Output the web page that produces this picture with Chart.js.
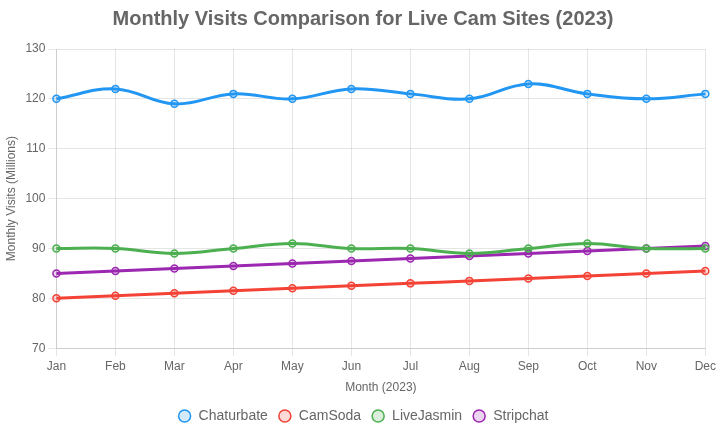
<!DOCTYPE html>
<html>
<head>
<meta charset="utf-8">
<script src="https://cdn.jsdelivr.net/npm/chart.js@4"></script>
<style>
html,body{margin:0;padding:0;background:#fff;}
#wrap{width:719px;height:433px;}
</style>
</head>
<body>
<div id="wrap"><canvas id="c"></canvas></div>
<script>
const months = ["Jan","Feb","Mar","Apr","May","Jun","Jul","Aug","Sep","Oct","Nov","Dec"];
const chaturbate = [120,122,119,121,120,122,121,120,123,121,120,121];
const camsoda = [80,80.5,81,81.5,82,82.5,83,83.5,84,84.5,85,85.5];
const livejasmin = [90,90,89,90,91,90,90,89,90,91,90,90];
const stripchat = [85,85.5,86,86.5,87,87.5,88,88.5,89,89.5,90,90.5];

function ds(label, data, color, bg){
  return {label, data, borderColor: color, backgroundColor: bg, borderWidth: 3, tension: 0.4,
    pointRadius: 3.5, pointBorderWidth: 1.5, pointBackgroundColor: bg, pointBorderColor: color, fill: false};
}
Chart.defaults.font.family = "'Liberation Sans', Arial, Helvetica, sans-serif";
new Chart(document.getElementById('c'), {
  type: 'line',
  data: {
    labels: months,
    datasets: [
      ds('Chaturbate', chaturbate, '#2196F3', 'rgba(33,150,243,0.2)'),
      ds('CamSoda', camsoda, '#F44336', 'rgba(244,67,54,0.2)'),
      ds('LiveJasmin', livejasmin, '#4CAF50', 'rgba(76,175,80,0.2)'),
      ds('Stripchat', stripchat, '#9C27B0', 'rgba(156,39,176,0.2)')
    ]
  },
  options: {
    responsive: true, maintainAspectRatio: false, animation: false,
    layout: {padding: {left: 7, right: 0, top: 7, bottom: 0}},
    plugins: {
      title: {display: true, text: 'Monthly Visits Comparison for Live Cam Sites (2023)',
        font: {size: 20, weight: 'bold'}, color: '#666', padding: {top: 0, bottom: 18}},
      legend: {position: 'bottom', labels: {usePointStyle: true, pointStyle: 'circle', boxWidth: 14, boxHeight: 8.5, font: {size: 14}, color: '#666', padding: 10}}
    },
    scales: {
      x: {title: {display: true, text: 'Month (2023)', color: '#666', font: {size: 12}, padding: {top: 4, bottom: 4}}, ticks: {color: '#666'}, grid: {color: 'rgba(0,0,0,0.1)'}},
      y: {min: 70, max: 130, ticks: {stepSize: 10, color: '#666'}, title: {display: true, text: 'Monthly Visits (Millions)', color: '#666', font: {size: 12}, padding: {top: -3, bottom: 4}}, grid: {color: 'rgba(0,0,0,0.1)'}}
    }
  }
});
</script>
</body>
</html>
